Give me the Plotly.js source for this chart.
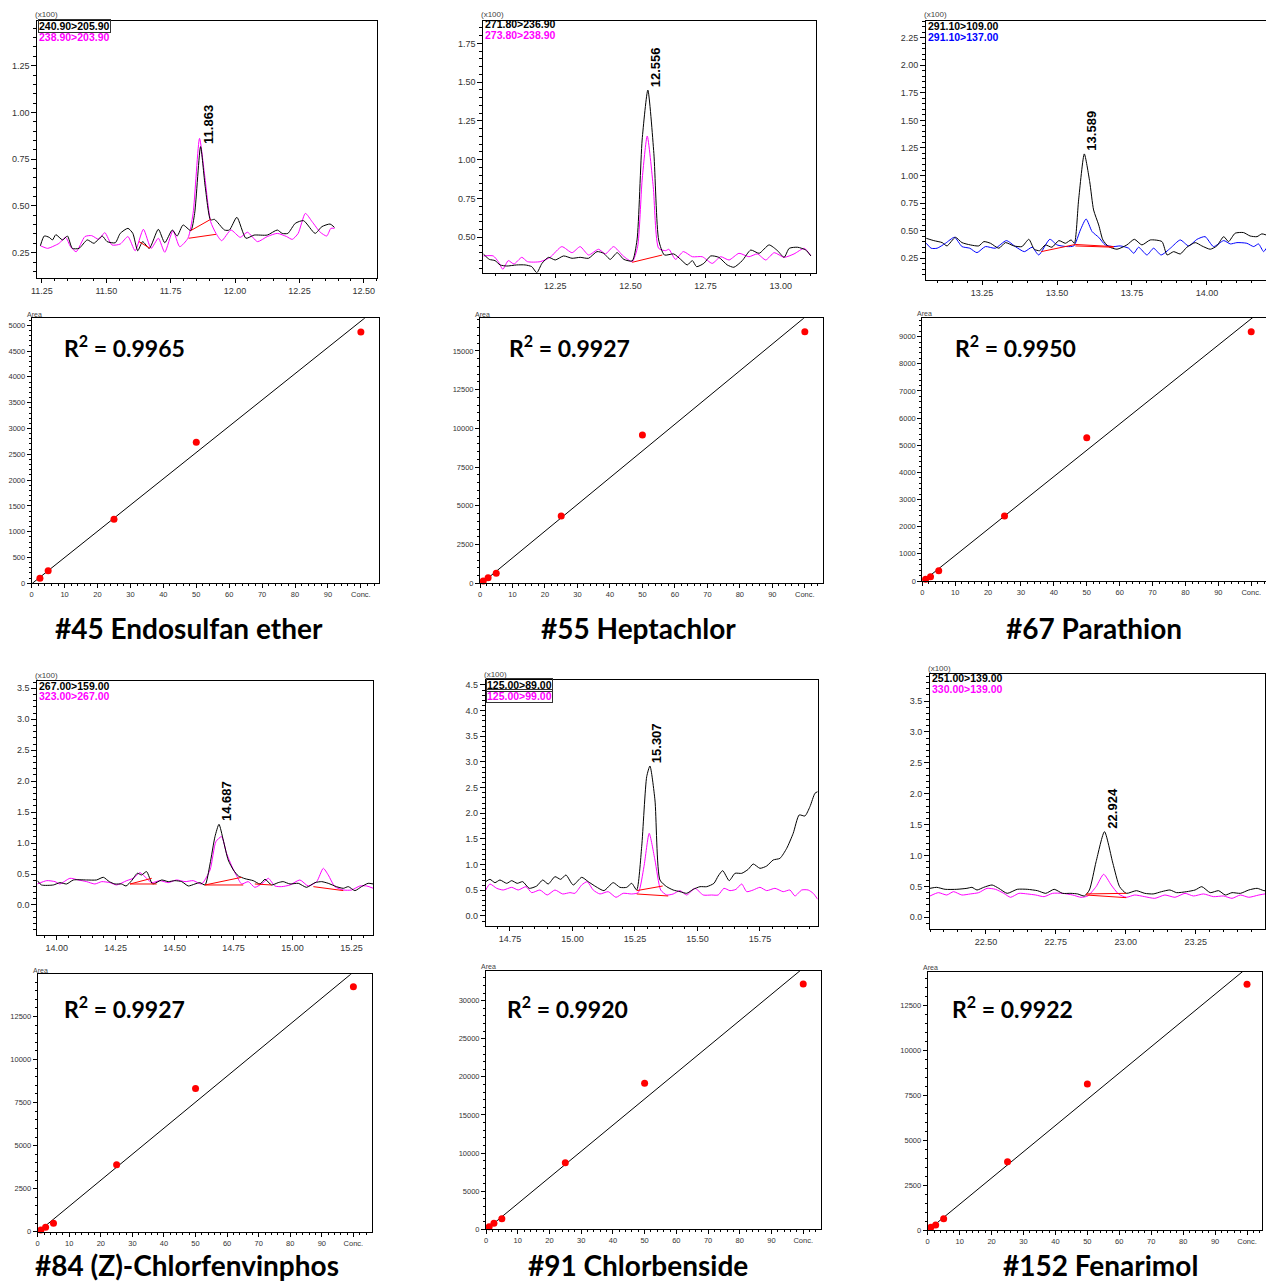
<!DOCTYPE html>
<html><head><meta charset="utf-8">
<script src="https://cdn.plot.ly/plotly-3.0.1.min.js"></script>
<style>html,body{margin:0;padding:0;background:#fff}#chart{width:1266px;height:1283px}</style>
</head><body><div id="chart"></div>
<script>
// ---------- #45 Endosulfan ether ----------
const endoRtK  = [11.244,11.259,11.278,11.291,11.304,11.33,11.349,11.368,11.394,11.426,11.452,11.484,11.503,11.535,11.554,11.584,11.603,11.622,11.641,11.667,11.702,11.727,11.756,11.775,11.798,11.828,11.843,11.866,11.884,11.905,11.92,11.959,11.978,12.007,12.042,12.074,12.125,12.164,12.183,12.205,12.234,12.266,12.311,12.337,12.369,12.386];
const endoIntK = [0.287,0.339,0.332,0.318,0.346,0.318,0.339,0.273,0.273,0.318,0.30,0.339,0.309,0.303,0.353,0.38,0.353,0.26,0.309,0.273,0.375,0.303,0.371,0.339,0.398,0.368,0.46,0.817,0.603,0.425,0.428,0.371,0.371,0.439,0.327,0.344,0.344,0.371,0.353,0.353,0.407,0.421,0.353,0.389,0.403,0.385];
const endoRtQ  = [11.244,11.272,11.297,11.317,11.342,11.361,11.383,11.417,11.443,11.471,11.494,11.522,11.554,11.584,11.612,11.644,11.674,11.702,11.727,11.759,11.785,11.817,11.837,11.862,11.881,11.905,11.926,11.948,11.984,12.02,12.048,12.087,12.125,12.164,12.2,12.222,12.245,12.273,12.299,12.331,12.356,12.372,12.386];
const endoIntQ = [0.287,0.273,0.286,0.30,0.332,0.282,0.255,0.336,0.341,0.321,0.357,0.291,0.296,0.336,0.26,0.375,0.273,0.327,0.252,0.368,0.282,0.327,0.46,0.861,0.674,0.416,0.353,0.314,0.371,0.332,0.359,0.309,0.336,0.353,0.336,0.321,0.353,0.46,0.416,0.359,0.339,0.38,0.38];
const endoBaseRt  = [11.828,11.905,null,11.82,11.926,null,11.627,11.67];
const endoBaseInt = [0.368,0.428,null,0.327,0.348,null,0.309,0.273];
const endoConc = [2.5,5,25,50,100];
const endoArea = [97,245,1239,2735,4871];
const endoFit  = [50.9,-10];          // slope, intercept

// ---------- #55 Heptachlor ----------
const heptRtK  = [12.011,12.031,12.05,12.067,12.089,12.122,12.15,12.172,12.189,12.206,12.228,12.25,12.278,12.306,12.333,12.361,12.389,12.411,12.433,12.456,12.478,12.506,12.522,12.539,12.558,12.578,12.594,12.613,12.644,12.667,12.689,12.706,12.72,12.744,12.767,12.794,12.822,12.844,12.872,12.9,12.928,12.961,12.989,13.011,13.028,13.056,13.083,13.1];
const heptIntK = [0.393,0.358,0.35,0.322,0.315,0.322,0.322,0.311,0.272,0.332,0.371,0.354,0.38,0.365,0.371,0.365,0.408,0.397,0.358,0.401,0.358,0.348,0.483,1.127,1.449,1.041,0.483,0.386,0.393,0.358,0.322,0.35,0.311,0.332,0.38,0.371,0.322,0.307,0.35,0.418,0.397,0.451,0.414,0.371,0.429,0.436,0.418,0.38];
const heptRtQ  = [12.011,12.044,12.061,12.076,12.094,12.113,12.139,12.158,12.2,12.233,12.272,12.306,12.333,12.361,12.394,12.417,12.444,12.476,12.506,12.524,12.539,12.556,12.576,12.594,12.617,12.628,12.65,12.676,12.706,12.739,12.772,12.8,12.828,12.861,12.894,12.922,12.95,12.978,13.011,13.044,13.078,13.1];
const heptIntQ = [0.38,0.38,0.343,0.294,0.35,0.328,0.371,0.343,0.343,0.371,0.44,0.401,0.44,0.386,0.423,0.393,0.44,0.38,0.343,0.44,0.869,1.153,0.826,0.429,0.414,0.423,0.358,0.408,0.375,0.375,0.332,0.375,0.354,0.397,0.375,0.393,0.354,0.401,0.371,0.393,0.429,0.38];
const heptBaseRt  = [12.506,12.606];
const heptBaseInt = [0.339,0.386];
const heptConc = [1,2.5,5,25,50,100];
const heptArea = [150,366,646,4347,9576,16247];
const heptFit  = [172.6,-86];

// ---------- #67 Parathion ----------
const paraRtK  = [13.064,13.089,13.117,13.133,13.161,13.183,13.211,13.239,13.256,13.278,13.306,13.328,13.356,13.383,13.406,13.424,13.442,13.461,13.483,13.506,13.528,13.547,13.558,13.572,13.591,13.609,13.622,13.639,13.653,13.672,13.7,13.733,13.758,13.783,13.811,13.85,13.867,13.889,13.911,13.933,13.961,13.983,14.011,14.033,14.056,14.072,14.094,14.122,14.144,14.167,14.183,14.198];
const paraIntK = [0.431,0.41,0.392,0.362,0.44,0.392,0.371,0.362,0.401,0.386,0.341,0.392,0.362,0.356,0.422,0.332,0.319,0.371,0.35,0.41,0.386,0.416,0.386,0.779,1.196,0.945,0.688,0.552,0.416,0.356,0.332,0.371,0.422,0.371,0.416,0.401,0.28,0.31,0.289,0.35,0.392,0.362,0.332,0.362,0.446,0.401,0.477,0.483,0.452,0.446,0.471,0.461];
const paraRtB  = [13.064,13.08,13.1,13.128,13.158,13.183,13.209,13.233,13.261,13.294,13.331,13.361,13.391,13.417,13.439,13.476,13.5,13.533,13.556,13.578,13.597,13.617,13.639,13.661,13.689,13.711,13.739,13.756,13.772,13.8,13.822,13.847,13.878,13.911,13.939,13.967,13.994,14.022,14.056,14.078,14.1,14.133,14.156,14.172,14.189,14.198];
const paraIntB = [0.386,0.341,0.341,0.386,0.44,0.356,0.341,0.301,0.356,0.341,0.41,0.356,0.31,0.35,0.28,0.422,0.371,0.356,0.362,0.507,0.606,0.492,0.44,0.371,0.356,0.362,0.341,0.295,0.35,0.28,0.341,0.28,0.341,0.416,0.362,0.422,0.446,0.356,0.41,0.38,0.392,0.386,0.356,0.38,0.31,0.341];
const paraBaseRt  = [13.447,13.561,13.689,null,13.561,13.689];
const paraBaseInt = [0.31,0.375,0.356,null,0.362,0.35];
const paraConc = [1,2.5,5,25,50,100];
const paraArea = [61,160,381,2394,5280,9185];
const paraFit  = [96.9,-29];

// ---------- #84 (Z)-Chlorfenvinphos ----------
const cfvRtK  = [13.918,13.936,13.986,14.014,14.042,14.071,14.127,14.169,14.198,14.223,14.247,14.275,14.294,14.318,14.342,14.36,14.381,14.407,14.445,14.473,14.501,14.53,14.558,14.586,14.607,14.629,14.65,14.671,14.688,14.706,14.727,14.749,14.77,14.798,14.833,14.862,14.883,14.911,14.939,14.96,14.989,15.024,15.059,15.095,15.123,15.151,15.186,15.215,15.236,15.264,15.292,15.32,15.342];
const cfvIntK = [0.393,0.323,0.323,0.361,0.339,0.404,0.404,0.404,0.447,0.377,0.339,0.339,0.307,0.393,0.512,0.485,0.539,0.339,0.404,0.377,0.393,0.377,0.307,0.339,0.361,0.323,0.662,1.104,1.303,1.05,0.727,0.565,0.469,0.425,0.393,0.339,0.415,0.323,0.361,0.377,0.339,0.35,0.285,0.361,0.377,0.35,0.296,0.269,0.296,0.232,0.296,0.35,0.339];
const cfvRtQ  = [13.918,13.958,13.993,14.014,14.056,14.092,14.127,14.162,14.191,14.226,14.254,14.297,14.325,14.353,14.381,14.403,14.438,14.473,14.508,14.544,14.579,14.614,14.65,14.675,14.699,14.72,14.742,14.763,14.784,14.812,14.84,14.876,14.897,14.925,14.953,14.989,15.031,15.066,15.102,15.13,15.151,15.179,15.215,15.25,15.285,15.314,15.342];
const cfvIntQ = [0.339,0.393,0.377,0.339,0.431,0.404,0.377,0.339,0.377,0.361,0.323,0.393,0.431,0.522,0.431,0.361,0.393,0.361,0.404,0.377,0.393,0.339,0.565,1.023,1.104,0.835,0.63,0.469,0.339,0.377,0.285,0.361,0.431,0.307,0.296,0.323,0.404,0.307,0.377,0.592,0.485,0.296,0.242,0.242,0.307,0.307,0.269];
const cfvBaseRt  = [14.311,14.403,null,14.311,14.424,null,14.629,14.784,null,14.629,14.791,null,14.84,14.911,null,15.088,15.215];
const cfvBaseInt = [0.339,0.431,null,0.339,0.339,null,0.323,0.447,null,0.323,0.323,null,0.339,0.323,null,0.296,0.232];
const cfvConc = [1,2.5,5,25,50,100];
const cfvArea = [97,253,486,3888,8320,14230];
const cfvFit  = [151.1,-30];

// ---------- #91 Chlorbenside ----------
const cbsRtK  = [14.653,14.67,14.69,14.71,14.737,14.757,14.779,14.801,14.827,14.857,14.881,14.903,14.93,14.953,14.974,15.003,15.037,15.063,15.094,15.126,15.163,15.19,15.217,15.237,15.257,15.277,15.297,15.31,15.33,15.35,15.377,15.403,15.43,15.457,15.483,15.51,15.537,15.566,15.583,15.601,15.627,15.65,15.677,15.703,15.723,15.75,15.777,15.803,15.83,15.857,15.883,15.907,15.93,15.95,15.97,15.981];
const cbsIntK = [0.669,0.714,0.649,0.701,0.636,0.688,0.636,0.669,0.539,0.584,0.701,0.623,0.766,0.714,0.799,0.604,0.753,0.669,0.571,0.494,0.649,0.558,0.558,0.636,0.506,1.351,2.714,2.922,2.26,0.701,0.571,0.506,0.474,0.442,0.519,0.571,0.571,0.636,0.779,0.883,0.688,0.831,0.831,0.909,1.013,0.929,0.974,1.091,1.123,1.318,1.61,1.968,1.948,2.13,2.39,2.422];
const cbsRtQ  = [14.653,14.67,14.697,14.723,14.757,14.783,14.814,14.837,14.87,14.899,14.93,14.961,14.99,15.01,15.037,15.059,15.083,15.11,15.143,15.174,15.203,15.237,15.263,15.286,15.307,15.33,15.353,15.377,15.403,15.43,15.457,15.49,15.523,15.557,15.583,15.606,15.63,15.654,15.677,15.697,15.723,15.75,15.777,15.81,15.843,15.87,15.89,15.917,15.943,15.963,15.981];
const cbsIntQ = [0.506,0.623,0.539,0.506,0.558,0.506,0.571,0.455,0.506,0.409,0.506,0.429,0.455,0.442,0.604,0.669,0.506,0.429,0.474,0.364,0.442,0.429,0.455,0.961,1.61,1.091,0.506,0.409,0.429,0.494,0.409,0.539,0.409,0.409,0.409,0.539,0.494,0.519,0.623,0.474,0.506,0.558,0.494,0.539,0.474,0.506,0.39,0.506,0.506,0.442,0.325];
const cbsBaseRt  = [15.257,15.361,null,15.257,15.383];
const cbsBaseInt = [0.494,0.584,null,0.429,0.39];
const cbsConc = [1,2.5,5,25,50,100];
const cbsArea = [350,787,1400,8745,19150,32180];
const cbsFit  = [343.4,-69];

// ---------- #152 Fenarimol ----------
const fenRtK  = [22.3,22.324,22.354,22.396,22.432,22.45,22.468,22.492,22.522,22.546,22.576,22.612,22.648,22.684,22.714,22.744,22.774,22.804,22.828,22.852,22.87,22.894,22.924,22.954,22.978,23.002,23.038,23.068,23.098,23.128,23.158,23.182,23.218,23.248,23.272,23.302,23.332,23.356,23.38,23.41,23.44,23.47,23.494,23.51];
const fenIntK = [0.469,0.485,0.453,0.453,0.469,0.485,0.442,0.485,0.523,0.469,0.388,0.453,0.453,0.431,0.388,0.453,0.388,0.388,0.378,0.345,0.442,0.901,1.386,0.874,0.496,0.388,0.431,0.388,0.378,0.415,0.442,0.399,0.415,0.442,0.496,0.399,0.431,0.361,0.399,0.388,0.442,0.469,0.431,0.431];
const fenRtQ  = [22.3,22.33,22.36,22.384,22.414,22.444,22.474,22.504,22.534,22.564,22.588,22.618,22.648,22.678,22.708,22.738,22.774,22.81,22.84,22.864,22.894,22.921,22.948,22.974,23.002,23.032,23.068,23.104,23.14,23.176,23.212,23.242,23.278,23.314,23.35,23.38,23.41,23.44,23.476,23.51];
const fenIntQ = [0.345,0.399,0.361,0.415,0.361,0.378,0.399,0.469,0.453,0.388,0.324,0.388,0.378,0.361,0.334,0.388,0.388,0.361,0.324,0.345,0.496,0.696,0.523,0.378,0.324,0.361,0.334,0.307,0.361,0.324,0.388,0.345,0.378,0.334,0.345,0.307,0.361,0.324,0.361,0.388];
const fenBaseRt  = [22.858,23.002,null,22.858,23.002];
const fenBaseInt = [0.378,0.388,null,0.361,0.318];
const fenConc = [1,2.5,5,25,50,100];
const fenArea = [148,278,630,3796,8111,13648];
const fenFit  = [145.9,-29];

// ---------- text ----------
const compoundNames = ['#45 Endosulfan ether','#55 Heptachlor','#67 Parathion','#84 (Z)-Chlorfenvinphos','#91 Chlorbenside','#152 Fenarimol'];
const rSquared = ['0.9965','0.9927','0.9950','0.9927','0.9920','0.9922'];
const peakLabels = ['11.863','12.556','13.589','14.687','15.307','22.924'];
const quantTransitions = ['240.90>205.90','271.80>236.90','291.10>109.00','267.00>159.00','125.00>89.00','251.00>139.00'];
const refTransitions   = ['238.90>203.90','273.80>238.90','291.10>137.00','323.00>267.00','125.00>99.00','330.00>139.00'];
const concTickVals = [0,10,20,30,40,50,60,70,80,90,100];
const concTickText = ['0','10','20','30','40','50','60','70','80','90','Conc.'];

// ================= drawing =================
const W = 1266, H = 1283;
const MAG = '#ff00ff', BLUE = '#0000ff', RED = '#ff0000';
const AXF = 'Liberation Sans, Arial, sans-serif';
const BOLDF = 'Lato, Open Sans, sans-serif';
const fx = v => v / W, fy = v => 1 - v / H;

const chroms = [
  {box:[37.3,376.7,21,277.7], xr:[11.232,12.55], yr:[0.116,1.489], ydt:0.25, ymn:0.05, yf:'.2f', kx:endoRtK, ky:endoIntK, qx:endoRtQ, qy:endoIntQ, qc:MAG, bx:endoBaseRt, by:endoBaseInt, boxed:[true,false], lab:[26,37]},
  {box:[483.3,816,21,272.7], xr:[12.011,13.117], yr:[0.272,1.894], ydt:0.25, ymn:0.05, yf:'.2f', kx:heptRtK, ky:heptIntK, qx:heptRtQ, qy:heptIntQ, qc:MAG, bx:heptBaseRt, by:heptBaseInt, boxed:[false,false], lab:[24,35]},
  {box:[926,1266,21,280], xr:[13.063,14.197], yr:[0.053,2.401], ydt:0.25, ymn:0.05, yf:'.2f', kx:paraRtK, ky:paraIntK, qx:paraRtB, qy:paraIntB, qc:BLUE, bx:paraBaseRt, by:paraBaseInt, boxed:[false,false], lab:[26,37]},
  {box:[37.3,373.3,681,935], xr:[13.918,15.342], yr:[-0.485,3.618], ydt:0.5, ymn:0.1, yf:'.1f', kx:cfvRtK, ky:cfvIntK, qx:cfvRtQ, qy:cfvIntQ, qc:MAG, bx:cfvBaseRt, by:cfvBaseInt, boxed:[false,false], lab:[686,696]},
  {box:[485.7,817.7,680,926], xr:[14.653,15.981], yr:[-0.195,4.597], ydt:0.5, ymn:0.1, yf:'.1f', kx:cbsRtK, ky:cbsIntK, qx:cbsRtQ, qy:cbsIntQ, qc:MAG, bx:cbsBaseRt, by:cbsBaseInt, boxed:[true,true], lab:[685,696]},
  {box:[930,1265,674,929.3], xr:[22.3,23.498], yr:[-0.194,3.937], ydt:0.5, ymn:0.1, yf:'.1f', kx:fenRtK, ky:fenIntK, qx:fenRtQ, qy:fenIntQ, qc:MAG, bx:fenBaseRt, by:fenBaseInt, boxed:[false,false], lab:[678,689]}
];
const cals = [
  {box:[31.7,379.3,318.3,583.3], xr:[0,105.6], yr:[0,5135], ydt:500, ymn:100, c:endoConc, a:endoArea, f:endoFit, r:[62,346], t:[189,628]},
  {box:[480,822.7,318.3,583.3], xr:[0,105.5], yr:[0,17108], ydt:2500, ymn:500, c:heptConc, a:heptArea, f:heptFit, r:[507,346], t:[638,628]},
  {box:[922.3,1266,317.7,581], xr:[0,104.5], yr:[0,9700], ydt:1000, ymn:200, c:paraConc, a:paraArea, f:paraFit, r:[953,346], t:[1094,628]},
  {box:[37.7,371.7,974.3,1231.7], xr:[0,105.8], yr:[0,14950], ydt:2500, ymn:500, c:cfvConc, a:cfvArea, f:cfvFit, r:[62,1007], t:[187,1265]},
  {box:[486,821,970.7,1229.3], xr:[0,105.6], yr:[0,33930], ydt:5000, ymn:1000, c:cbsConc, a:cbsArea, f:cbsFit, r:[505,1007], t:[638,1265]},
  {box:[927.7,1261.7,971.7,1230], xr:[0,104.6], yr:[0,14352], ydt:2500, ymn:500, c:fenConc, a:fenArea, f:fenFit, r:[950,1007], t:[1100,1265]}
];

const traces = [];
const layout = {width:W, height:H, margin:{l:0,r:0,t:0,b:0}, showlegend:false,
  paper_bgcolor:'#fff', plot_bgcolor:'#fff', annotations:[]};
const ann = layout.annotations;

function axBase(dom, range, tickLen, fontSize) {
  return {domain:dom, range:range, showline:true, mirror:true, linecolor:'#000', linewidth:1,
    ticks:'outside', ticklen:tickLen, tickwidth:1, tickcolor:'#000', showgrid:false, zeroline:false,
    fixedrange:true, tickfont:{family:AXF, size:fontSize, color:'#333'}};
}
let n = 0;
function nextAxes() { n += 1; const s = n === 1 ? '' : String(n); return {s:s, xk:'xaxis'+s, yk:'yaxis'+s, xr:'x'+s, yr:'y'+s}; }

chroms.forEach((p, i) => {
  const a = nextAxes();
  const [x0,x1,y0,y1] = p.box;
  layout[a.xk] = Object.assign(axBase([fx(x0), fx(x1)], p.xr, 4, 9), {anchor:a.yr, tick0:0, dtick:0.25, tickformat:'.2f',
    minor:{tick0:0, dtick:0.05, ticklen:2, tickcolor:'#000', ticks:'outside', showgrid:false}});
  layout[a.yk] = Object.assign(axBase([fy(y1), fy(y0)], p.yr, 5, 9), {anchor:a.xr, tick0:0, dtick:p.ydt, tickformat:p.yf,
    minor:{tick0:0, dtick:p.ymn, ticklen:3, tickcolor:'#000', ticks:'outside', showgrid:false}});
  traces.push({x:p.qx, y:p.qy, mode:'lines', line:{color:p.qc, width:1, shape:'spline', smoothing:0.6}, xaxis:a.xr, yaxis:a.yr, hoverinfo:'skip'});
  traces.push({x:p.kx, y:p.ky, mode:'lines', line:{color:'#000', width:1, shape:'spline', smoothing:0.6}, xaxis:a.xr, yaxis:a.yr, hoverinfo:'skip'});
  traces.push({x:p.bx, y:p.by, mode:'lines', line:{color:RED, width:1}, connectgaps:false, xaxis:a.xr, yaxis:a.yr, hoverinfo:'skip'});
  // header texts
  ann.push({xref:'paper', yref:'paper', x:fx(x0-4), y:fy(y0-6), xanchor:'left', yanchor:'middle', showarrow:false,
    text:'(x100)', font:{family:AXF, size:8, color:'#444'}});
  ann.push({xref:'paper', yref:'paper', x:fx(x0+0.5), y:fy(p.lab[0]), xanchor:'left', yanchor:'middle', showarrow:false,
    text:'<b>'+quantTransitions[i]+'</b>', font:{family:AXF, size:10.5, color:'#000'},
    bordercolor:p.boxed[0] ? '#333' : 'rgba(0,0,0,0)', borderwidth:1, borderpad:0});
  ann.push({xref:'paper', yref:'paper', x:fx(x0+0.5), y:fy(p.lab[1]), xanchor:'left', yanchor:'middle', showarrow:false,
    text:'<b>'+refTransitions[i]+'</b>', font:{family:AXF, size:10.5, color:p.qc},
    bordercolor:p.boxed[1] ? '#333' : 'rgba(0,0,0,0)', borderwidth:1, borderpad:0});
  // peak label
  ann.push({xref:a.xr, yref:a.yr, x:parseFloat(peakLabels[i]), y:Math.max(...p.ky), xanchor:'center', yanchor:'bottom',
    xshift:8, yshift:1, textangle:-90, showarrow:false, text:'<b>'+peakLabels[i]+'</b>', font:{family:AXF, size:13, color:'#000'}});

  // calibration panel below
  const c = cals[i];
  const b = nextAxes();
  const [cx0,cx1,cy0,cy1] = c.box;
  layout[b.xk] = Object.assign(axBase([fx(cx0), fx(cx1)], c.xr, 4, 7.5), {anchor:b.yr, tickmode:'array', tickvals:concTickVals, ticktext:concTickText,
    minor:{tickmode:'linear', tick0:0, dtick:2, ticklen:2, tickcolor:'#000', ticks:'outside', showgrid:false}});
  layout[b.yk] = Object.assign(axBase([fy(cy1), fy(cy0)], c.yr, 4, 7.5), {anchor:b.xr, tick0:0, dtick:c.ydt, tickformat:'d',
    minor:{tick0:0, dtick:c.ymn, ticklen:2, tickcolor:'#000', ticks:'outside', showgrid:false}});
  const slope = c.f[0], icpt = c.f[1];
  const fitX = [-icpt/slope, c.xr[1]];
  traces.push({x:fitX, y:fitX.map(v => slope*v + icpt), mode:'lines', line:{color:'#000', width:1}, xaxis:b.xr, yaxis:b.yr, hoverinfo:'skip'});
  traces.push({x:c.c, y:c.a, mode:'markers', marker:{color:RED, size:7}, cliponaxis:false, xaxis:b.xr, yaxis:b.yr, hoverinfo:'skip'});
  ann.push({xref:'paper', yref:'paper', x:fx(cx0-7), y:fy(cy0-4), xanchor:'left', yanchor:'middle', showarrow:false,
    text:'Area', font:{family:AXF, size:7, color:'#444'}});
  ann.push({xref:'paper', yref:'paper', x:fx(c.r[0]), y:fy(c.r[1]), xanchor:'left', yanchor:'middle', showarrow:false,
    text:'<b>R<sup>2</sup> = '+rSquared[i]+'</b>', font:{family:BOLDF, size:23, color:'#000'}});
  ann.push({xref:'paper', yref:'paper', x:fx(c.t[0]), y:fy(c.t[1]), xanchor:'center', yanchor:'middle', showarrow:false,
    text:'<b>'+compoundNames[i]+'</b>', font:{family:BOLDF, size:28, color:'#000'}});
});

Plotly.newPlot('chart', traces, layout, {staticPlot:true, displayModeBar:false});
</script></body></html>
